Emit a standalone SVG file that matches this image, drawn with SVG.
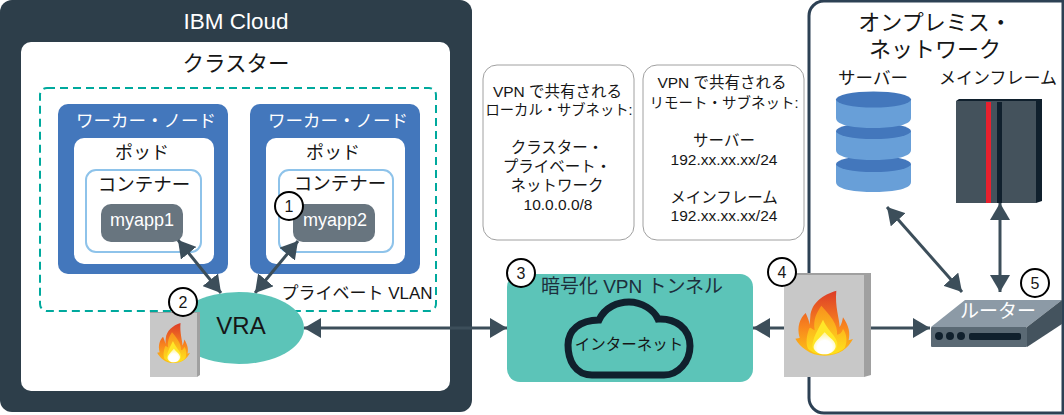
<svg xmlns="http://www.w3.org/2000/svg" xmlns:xlink="http://www.w3.org/1999/xlink" width="1064" height="415" viewBox="0 0 1064 415">
<style>
text{font-family:"Liberation Sans","Noto Sans CJK JP",sans-serif;text-anchor:middle;fill:#161616}
.lt{fill:#fff}
.worker{fill:#4377bc}
.pod{fill:#fff}
.ctr{fill:#fff;stroke:#8ec3ea;stroke-width:2}
.app{fill:#68757f}
.note{fill:#fff;stroke:#a0a0a0;stroke-width:1}
.badge{fill:#fff;stroke:#000;stroke-width:2}
.conn{fill:none;stroke:#3c4e5a;stroke-width:3;marker-start:url(#a);marker-end:url(#a)}
.one{fill:none;stroke:#3c4e5a;stroke-width:3;marker-end:url(#a)}
</style>
<defs>
<marker id="a" viewBox="0 0 17 20" refX="17" refY="10" markerUnits="userSpaceOnUse" markerWidth="17" markerHeight="20" orient="auto-start-reverse"><path d="M0 0L17 10L0 20Z" fill="#3c4e5a"/></marker>
<linearGradient id="fo" x1="0" y1="0" x2="0" y2="1"><stop offset="0" stop-color="#dc3c28"/><stop offset=".55" stop-color="#f8841e"/><stop offset="1" stop-color="#fdc415"/></linearGradient>
<linearGradient id="fy" x1="0" y1="0" x2="0" y2="1"><stop offset="0" stop-color="#f8901d"/><stop offset="1" stop-color="#ffe41c"/></linearGradient>
<radialGradient id="fw" cx=".5" cy=".7" r=".6"><stop offset=".55" stop-color="#fff"/><stop offset="1" stop-color="#fff6a8"/></radialGradient>
<g id="fire" transform="translate(-133,-160)">
<path d="M170 63C130 75 95 100 92 140L90 165C88 150 82 140 78 130C62 145 50 170 60 205L47 207C60 230 90 258 135 258C180 258 205 235 220 208L207 212C212 190 208 170 190 143C188 155 185 165 180 172C180 150 165 110 170 63Z" fill="url(#fo)"/>
<path d="M125 108C110 130 100 150 105 182C95 178 92 170 88 178C80 200 78 222 85 237C110 262 170 260 195 235C205 212 200 192 190 178C186 190 180 195 172 195C176 165 150 135 125 108Z" fill="url(#fy)"/>
<path d="M130 150C115 180 98 205 98 232C105 258 162 262 172 232C180 205 148 190 130 150Z" fill="#ffe628"/>
<path d="M135 188C120 205 100 220 102 235C110 260 160 262 168 232C170 215 150 205 135 188Z" fill="url(#fw)"/>
</g>
</defs>

<g id="ibm-cloud">
<rect x="0" y="0" width="472" height="412" rx="12" fill="#2d3e4a"/>
<text class="lt" x="236" y="29" font-size="22.5">IBM Cloud</text>
<rect x="21" y="42" width="429" height="349" rx="10" fill="#fff"/>
<text x="236" y="71" font-size="21.5">クラスター</text>
<rect x="40" y="88" width="396" height="223" rx="7" fill="none" stroke="#00a99d" stroke-width="2" stroke-dasharray="8 5"/>
<text x="357" y="299" font-size="17">プライベート VLAN</text>
</g>

<g id="worker1">
<rect class="worker" x="58" y="104" width="170" height="170" rx="10"/>
<text class="lt" x="146" y="127" font-size="17.5">ワーカー・ノード</text>
<rect class="pod" x="74" y="138" width="140" height="126" rx="10"/>
<text x="142" y="159" font-size="18">ポッド</text>
<rect class="ctr" x="86" y="170" width="115" height="82" rx="10"/>
<text x="144" y="191" font-size="18.5">コンテナー</text>
<rect class="app" x="101" y="204" width="82" height="38" rx="10"/>
<text class="lt" x="142" y="226" font-size="18">myapp1</text>
</g>
<g id="worker2">
<rect class="worker" x="250" y="104" width="170" height="170" rx="10"/>
<text class="lt" x="338" y="127" font-size="17.5">ワーカー・ノード</text>
<rect class="pod" x="266" y="138" width="139" height="126" rx="10"/>
<text x="333" y="159" font-size="18">ポッド</text>
<rect class="ctr" x="279" y="170" width="114" height="82" rx="10"/>
<text x="340" y="190" font-size="18.5">コンテナー</text>
<rect class="app" x="293" y="204" width="82" height="38" rx="10"/>
<text class="lt" x="335" y="226" font-size="18">myapp2</text>
</g>

<g id="on-prem">
<path d="M1064 1H824A15 15 0 0 0 809 16V398A15 15 0 0 0 824 413H1064" fill="#fff" stroke="#2d4154" stroke-width="3"/>
<path d="M1063 1V413" stroke="#2d4154" stroke-width="3" fill="none"/>
<text x="935" y="30" font-size="22">オンプレミス・</text>
<text x="935" y="57" font-size="22">ネットワーク</text>
</g>

<g id="connectors">
<path class="conn" d="M178 240L221 293"/>
<path class="conn" d="M298 241L255 293"/>
<path class="conn" d="M304 328L507 328"/>
<path class="one" d="M784 328L753 328"/>
<path class="one" d="M870 328L930 328"/>
<path class="conn" d="M887 207L962 292"/>
<path class="conn" d="M1000 203L1000 292"/>
</g>

<g id="vra">
<ellipse cx="239" cy="328" rx="65" ry="36" fill="#5cc4b8"/>
<text x="241" y="334" font-size="24">VRA</text>
</g>
<g id="firewall1">
<path d="M150 312H200V375L197 377H150Z" fill="#a0a0a0"/>
<rect x="150" y="313" width="47" height="64" fill="#c8c8c8"/>
<use xlink:href="#fire" href="#fire" transform="translate(173.500,343) scale(.19,.205)"/>
</g>

<g id="note-local">
<rect class="note" x="483" y="65" width="151" height="175" rx="14"/>
<text font-size="15.500" x="557.500" y="97">VPN で共有される</text>
<text font-size="14.300" x="559" y="115">ローカル・サブネット:</text>
<text font-size="15.500" x="557" y="153">クラスター・</text>
<text font-size="15.500" x="557" y="172">プライベート・</text>
<text font-size="15.500" x="557" y="191">ネットワーク</text>
<text font-size="15.500" x="558" y="210">10.0.0.0/8</text>
</g>
<g id="note-remote">
<rect class="note" x="643" y="65" width="161" height="175" rx="14"/>
<text font-size="15.500" x="722" y="88">VPN で共有される</text>
<text font-size="14.500" x="724" y="108">リモート・サブネット:</text>
<text font-size="15.500" x="724" y="146">サーバー</text>
<text font-size="15.500" x="724" y="165">192.xx.xx.xx/24</text>
<text font-size="15.500" x="724" y="203">メインフレーム</text>
<text font-size="15.500" x="724" y="221">192.xx.xx.xx/24</text>
</g>

<g id="vpn-tunnel">
<rect x="507" y="274" width="246" height="108" rx="13" fill="#5cc4b8"/>
<text x="632" y="293" font-size="19" style="fill:#1c2f3c">暗号化 VPN トンネル</text>
<path d="M592 375C575 375 568 360 568 345C568 330 580 320 599 320C605 307 618 302 629 302C642 302 654 310 658 319C675 318 690 328 690 346C690 362 678 375 664 375Z" fill="none" stroke="#10202d" stroke-width="7"/>
<text x="629" y="350" font-size="15.500">インターネット</text>
</g>

<g id="firewall2">
<path d="M784 273H871V375L864 377H784Z" fill="#a0a0a0"/>
<rect x="784" y="275" width="80" height="102" fill="#c8c8c8"/>
<use xlink:href="#fire" href="#fire" transform="translate(824,323) scale(.3333)"/>
</g>

<g id="server">
<text x="873" y="84" font-size="17.500">サーバー</text>
<path d="M836 164V182C836 190 857 192 873 192C889 192 911 190 911 182V164Z" fill="#689fd8"/>
<ellipse cx="873.500" cy="164" rx="37.500" ry="8" fill="#4377bc"/>
<path d="M836 131V150C836 158 857 160 873 160C889 160 911 158 911 150V131Z" fill="#689fd8"/>
<ellipse cx="873.500" cy="131" rx="37.500" ry="8" fill="#4377bc"/>
<path d="M836 99V118C836 126 857 128 873 128C889 128 911 126 911 118V99Z" fill="#689fd8"/>
<ellipse cx="873.500" cy="99.500" rx="37.500" ry="8" fill="#4377bc"/>
</g>
<g id="mainframe">
<text x="998" y="84" font-size="17">メインフレーム</text>
<path d="M956 101L959 99H1042V201L1036 203H956Z" fill="#10202d"/>
<rect x="956" y="101" width="80" height="102" fill="#44525c"/>
<rect x="986" y="102" width="5" height="101" fill="#e8202e"/>
<rect x="997" y="102" width="5" height="101" fill="#10202d"/>
</g>
<g id="router">
<path d="M931 327L965 300H1062L1027 327Z" fill="#8c9aa6"/>
<path d="M1027 327L1062 300V324L1027 347Z" fill="#44535e"/>
<rect x="931" y="327" width="96" height="20" rx="1" fill="#5a6974"/>
<circle cx="939" cy="336" r="4" fill="#10202d"/><circle cx="950" cy="336" r="4" fill="#10202d"/><circle cx="961" cy="336" r="4" fill="#10202d"/>
<rect x="969" y="333" width="52" height="7" rx="2" fill="#10202d"/>
<text class="lt" x="998" y="318" font-size="19">ルーター</text>
</g>

<g id="badges">
<circle class="badge" cx="289" cy="206" r="14"/><text x="289" y="212" font-size="16">1</text>
<circle class="badge" cx="183" cy="302" r="14"/><text x="183" y="308" font-size="16">2</text>
<circle class="badge" cx="521" cy="273" r="14"/><text x="521" y="279" font-size="16">3</text>
<circle class="badge" cx="782" cy="272" r="14"/><text x="782" y="278" font-size="16">4</text>
<circle class="badge" cx="1035" cy="283" r="14"/><text x="1035" y="289" font-size="16">5</text>
</g>
</svg>
